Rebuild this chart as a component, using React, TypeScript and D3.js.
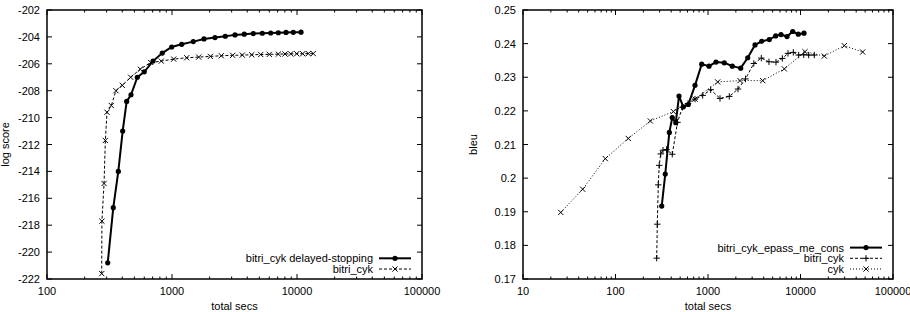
import React, { useRef, useEffect } from 'react';
import * as d3 from 'd3';

// left panel: log score vs total secs
const delayedSecs = [306, 339, 372, 403, 434, 470, 528, 600, 705, 836, 994, 1196, 1480, 1803, 2208, 2669, 3192, 3787, 4470, 5279, 6161, 7087, 8166, 9342, 10765];
const delayedScore = [-220.8, -216.7, -214.0, -211.0, -208.8, -208.3, -207.0, -206.6, -205.8, -205.2, -204.75, -204.55, -204.35, -204.15, -204.05, -203.95, -203.85, -203.8, -203.75, -203.73, -203.71, -203.69, -203.67, -203.66, -203.65];
const bitriSecs = [274, 275, 286, 293, 302, 327, 356, 400, 467, 558, 675, 821, 1032, 1311, 1635, 2025, 2480, 3059, 3652, 4341, 5124, 6003, 7087, 8017, 8906, 9945, 11106, 12313, 13502];
const bitriScore = [-221.6, -217.7, -214.9, -211.7, -209.6, -209.1, -208.0, -207.6, -207.0, -206.4, -205.9, -205.8, -205.65, -205.55, -205.5, -205.45, -205.4, -205.37, -205.35, -205.33, -205.31, -205.3, -205.28, -205.27, -205.26, -205.25, -205.25, -205.24, -205.24];
const scoreTicks = [-222, -220, -218, -216, -214, -212, -210, -208, -206, -204, -202];
const leftSecTicks = [100, 1000, 10000, 100000];

// right panel: bleu vs total secs
const epassSecs = [316, 345, 382, 411, 448, 486, 541, 612, 724, 855, 1025, 1220, 1500, 1831, 2257, 2687, 3223, 3806, 4600, 5394, 6155, 7147, 8236, 9467, 10910];
const epassBleu = [0.1917, 0.2012, 0.2136, 0.218, 0.2165, 0.2244, 0.2212, 0.2219, 0.2276, 0.2339, 0.2333, 0.2345, 0.2343, 0.2333, 0.2327, 0.2358, 0.2396, 0.2407, 0.2412, 0.2423, 0.2427, 0.2421, 0.2436, 0.2428, 0.2431];
const bitriRSecs = [279, 283, 290, 297, 308, 326, 356, 411, 468, 530, 608, 724, 876, 1069, 1348, 1699, 2110, 2543, 3127, 3770, 4565, 5434, 6357, 7327, 8360, 9561, 10830, 12260, 14100];
const bitriRBleu = [0.1762, 0.1863, 0.198, 0.2038, 0.2072, 0.2083, 0.2085, 0.2071, 0.2166, 0.2211, 0.2222, 0.2235, 0.2246, 0.2263, 0.2237, 0.2243, 0.2265, 0.2295, 0.2341, 0.2357, 0.2346, 0.2345, 0.2356, 0.2371, 0.2374, 0.2366, 0.2367, 0.2366, 0.2366];
const cykSecs = [25.6, 44.2, 77.6, 137.5, 238, 422, 724, 1273, 2218, 3903, 6681, 11184, 18082, 29750, 47030];
const cykBleu = [0.1898, 0.1967, 0.2058, 0.2118, 0.217, 0.2198, 0.2235, 0.2286, 0.229, 0.229, 0.2325, 0.2376, 0.2363, 0.2394, 0.2375];
const bleuTicks = [0.17, 0.18, 0.19, 0.2, 0.21, 0.22, 0.23, 0.24, 0.25];
const rightSecTicks = [10, 100, 1000, 10000, 100000];

const FONT = '"Liberation Sans", Arial, sans-serif';

function marker(g, kind, x, y) {
  if (kind === 'dot') {
    g.append('circle').attr('cx', x).attr('cy', y).attr('r', 2.6).attr('fill', '#000');
  } else if (kind === 'x') {
    const s = 2.6;
    g.append('path').attr('d', `M${x - s},${y - s}L${x + s},${y + s}M${x - s},${y + s}L${x + s},${y - s}`)
      .attr('stroke', '#000').attr('stroke-width', 1).attr('fill', 'none');
  } else {
    const s = 3.2;
    g.append('path').attr('d', `M${x - s},${y}L${x + s},${y}M${x},${y - s}L${x},${y + s}`)
      .attr('stroke', '#000').attr('stroke-width', 1).attr('fill', 'none');
  }
}

function drawPanel(svg, cfg) {
  const { x0, x1, y0, y1, xDomain, yDomain, xTicks, yTicks, yFmt, yLabel, yLabelX, series, legendX } = cfg;
  const x = d3.scaleLog().domain(xDomain).range([x0, x1]);
  const y = d3.scaleLinear().domain(yDomain).range([y1, y0]);
  const g = svg.append('g');

  // minor + major ticks on x (bottom and mirrored top)
  const minor = [];
  for (let d = xDomain[0]; d < xDomain[1]; d *= 10) {
    for (let k = 2; k <= 9; k++) minor.push(d * k);
  }
  minor.forEach(v => {
    g.append('line').attr('x1', x(v)).attr('x2', x(v)).attr('y1', y1).attr('y2', y1 - 2.5).attr('stroke', '#000');
    g.append('line').attr('x1', x(v)).attr('x2', x(v)).attr('y1', y0).attr('y2', y0 + 2.5).attr('stroke', '#000');
  });
  xTicks.forEach(v => {
    g.append('line').attr('x1', x(v)).attr('x2', x(v)).attr('y1', y1).attr('y2', y1 - 5).attr('stroke', '#000');
    g.append('line').attr('x1', x(v)).attr('x2', x(v)).attr('y1', y0).attr('y2', y0 + 5).attr('stroke', '#000');
    g.append('text').attr('x', x(v)).attr('y', 295).attr('text-anchor', 'middle')
      .attr('font-family', FONT).attr('font-size', 11).text(String(v));
  });
  yTicks.forEach(v => {
    g.append('line').attr('x1', x0).attr('x2', x0 + 5).attr('y1', y(v)).attr('y2', y(v)).attr('stroke', '#000');
    g.append('line').attr('x1', x1).attr('x2', x1 - 5).attr('y1', y(v)).attr('y2', y(v)).attr('stroke', '#000');
    g.append('text').attr('x', x0 - 7).attr('y', y(v) + 4).attr('text-anchor', 'end')
      .attr('font-family', FONT).attr('font-size', 11).text(yFmt(v));
  });
  g.append('rect').attr('x', x0).attr('y', y0).attr('width', x1 - x0).attr('height', y1 - y0)
    .attr('fill', 'none').attr('stroke', '#000').attr('stroke-width', 1.5);

  g.append('text').attr('x', (x0 + x1) / 2).attr('y', 310).attr('text-anchor', 'middle')
    .attr('font-family', FONT).attr('font-size', 11).text('total secs');
  g.append('text').attr('transform', `translate(${yLabelX},${(y0 + y1) / 2}) rotate(-90)`)
    .attr('text-anchor', 'middle').attr('font-family', FONT).attr('font-size', 11).text(yLabel);

  const line = d3.line().x(d => x(d[0])).y(d => y(d[1]));
  const rows = series.length;
  series.forEach((s, i) => {
    const pts = s.xs.map((v, j) => [v, s.ys[j]]);
    g.append('path').datum(pts).attr('d', line).attr('fill', 'none').attr('stroke', '#000')
      .attr('stroke-width', s.width).attr('stroke-dasharray', s.dash);
    pts.forEach(p => marker(g, s.marker, x(p[0]), y(p[1])));

    const ly = 269 - (rows - 1 - i) * 10.7;
    g.append('text').attr('x', legendX).attr('y', ly + 4).attr('text-anchor', 'end')
      .attr('font-family', FONT).attr('font-size', 11).text(s.name);
    g.append('line').attr('x1', legendX + 6).attr('x2', legendX + 38).attr('y1', ly).attr('y2', ly)
      .attr('stroke', '#000').attr('stroke-width', s.width).attr('stroke-dasharray', s.dash);
    marker(g, s.marker, legendX + 22, ly);
  });
}

export default function App() {
  const ref = useRef(null);

  useEffect(() => {
    const svg = d3.select(ref.current);
    svg.selectAll('*').remove();

    drawPanel(svg, {
      x0: 47, x1: 422, y0: 10, y1: 279,
      xDomain: [100, 100000], yDomain: [-222, -202],
      xTicks: leftSecTicks, yTicks: scoreTicks, yFmt: v => String(v),
      yLabel: 'log score', yLabelX: 9, legendX: 373,
      series: [
        { name: 'bitri_cyk delayed-stopping', xs: delayedSecs, ys: delayedScore, marker: 'dot', width: 2, dash: null },
        { name: 'bitri_cyk', xs: bitriSecs, ys: bitriScore, marker: 'x', width: 1, dash: '3,2' },
      ],
    });

    drawPanel(svg, {
      x0: 523, x1: 893, y0: 10, y1: 279,
      xDomain: [10, 100000], yDomain: [0.17, 0.25],
      xTicks: rightSecTicks, yTicks: bleuTicks, yFmt: v => String(+v.toFixed(2)),
      yLabel: 'bleu', yLabelX: 477, legendX: 844,
      series: [
        { name: 'bitri_cyk_epass_me_cons', xs: epassSecs, ys: epassBleu, marker: 'dot', width: 2, dash: null },
        { name: 'bitri_cyk', xs: bitriRSecs, ys: bitriRBleu, marker: 'plus', width: 1, dash: '3,2' },
        { name: 'cyk', xs: cykSecs, ys: cykBleu, marker: 'x', width: 1, dash: '1,2' },
      ],
    });
  }, []);

  return (
    <svg ref={ref} width={910} height={312} style={{ position: 'absolute', left: 0, top: 0, background: '#fff' }}
      role="img" aria-label="log score and bleu vs total secs" />
  );
}
